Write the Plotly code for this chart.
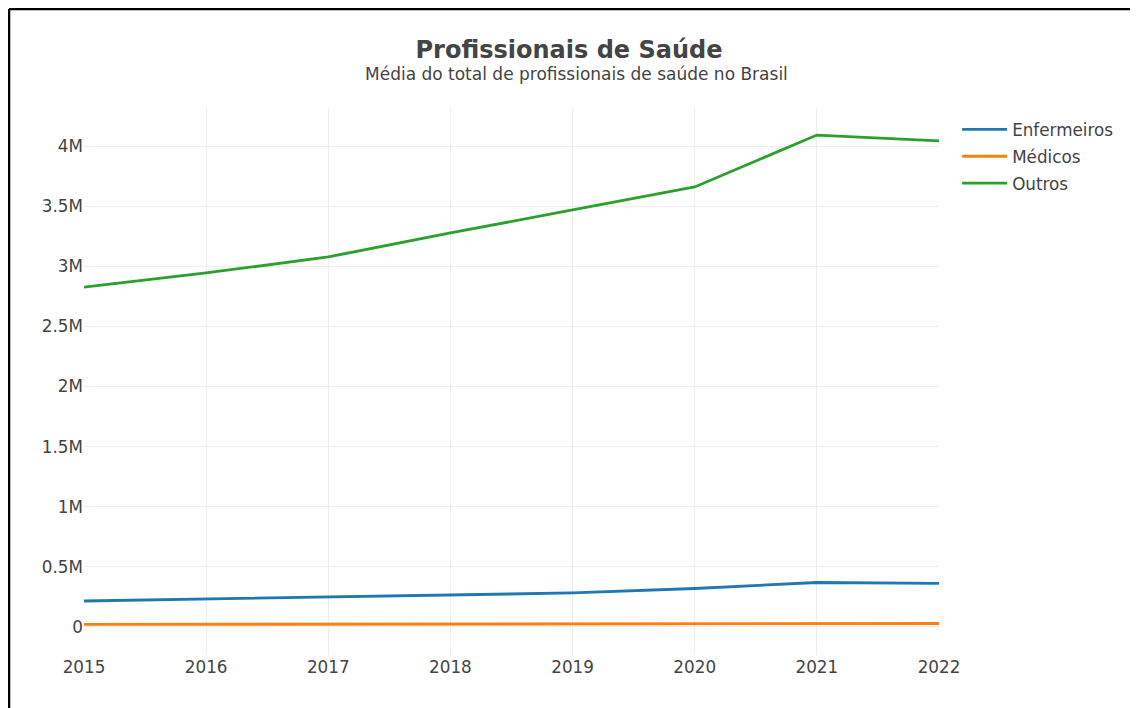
import plotly.graph_objects as go

anos = [2015, 2016, 2017, 2018, 2019, 2020, 2021, 2022]
enfermeiros = [216000, 233000, 249000, 266000, 283000, 320000, 370000, 362000]
medicos = [21000, 22000, 23000, 24000, 25000, 27000, 28000, 29000]
outros = [2827000, 2944000, 3077000, 3277000, 3468000, 3659000, 4091000, 4042000]

series = [("Enfermeiros", enfermeiros, "#1f77b4"),
          ("Médicos", medicos, "#ff7f0e"),
          ("Outros", outros, "#2ca02c")]

titulo = "<b>Profissionais de Saúde</b>"
subtitulo = "Média do total de profissionais de saúde no Brasil"

FONT = "DejaVu Sans"
fig = go.Figure()
for nome, vals, cor in series:
    fig.add_trace(go.Scatter(x=anos, y=vals, mode="lines", name=nome, legendgroup=nome,
                             line=dict(color=cor, width=2.8)))

fig.update_layout(
    width=1122, height=700,
    template="none",
    paper_bgcolor="white", plot_bgcolor="white",
    font=dict(family=FONT, color="#444", size=16.8),
    margin=dict(l=76, r=191, t=100, b=53, autoexpand=False),
    title=dict(text=titulo, font=dict(family=FONT, size=24, color="#444"),
               x=0.5, xanchor="center", xref="container",
               y=1 - 42 / 700, yanchor="middle", yref="container"),
    annotations=[dict(text=subtitulo, xref="paper", yref="paper",
                      x=0.5766, y=1.0622, xanchor="center", yanchor="middle",
                      showarrow=False, font=dict(family=FONT, size=17, color="#444"))],
    xaxis=dict(range=[2015, 2022], dtick=1, showgrid=True, gridcolor="#eee",
               zeroline=False, showline=False, ticks="",
               tickfont=dict(size=16.8, color="#444")),
    yaxis=dict(range=[-233000, 4316000], dtick=500000, showgrid=True, gridcolor="#eee",
               zeroline=False, showline=False, ticks="",
               tickfont=dict(size=16.8, color="#444")),
    legend=dict(x=1.0212, y=0.9927, xanchor="left", yanchor="top", itemwidth=45,
                traceorder="grouped", tracegroupgap=2,
                font=dict(family=FONT, size=16.8, color="#444"), bgcolor="rgba(0,0,0,0)"),
    shapes=[
        dict(type="line", xref="paper", yref="paper", x0=-0.0877, x1=-0.0877,
             y0=-0.2, y1=1.181, line=dict(color="black", width=2.5)),
        dict(type="line", xref="paper", yref="paper", x0=-0.0877, x1=1.24,
             y0=1.181, y1=1.181, line=dict(color="black", width=2.5)),
    ],
)

fig.write_html("out.html")
